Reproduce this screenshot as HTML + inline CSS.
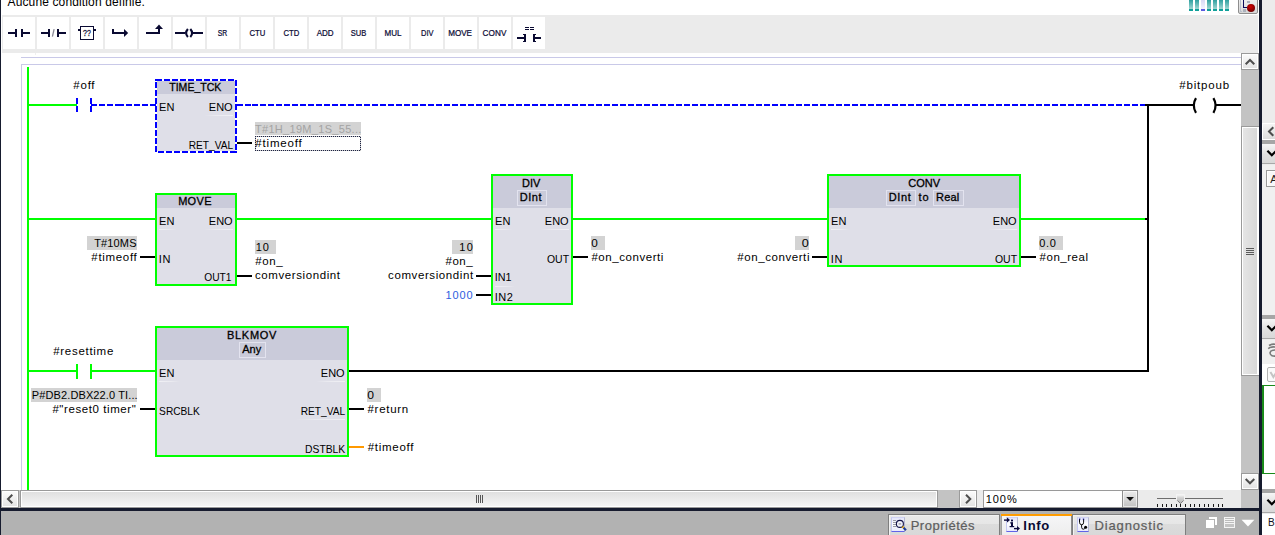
<!DOCTYPE html>
<html lang="fr"><head><meta charset="utf-8"><title>TIA Portal - LADDER</title>
<style>
html,body{margin:0;padding:0;background:#fff;}
body{width:1275px;height:535px;overflow:hidden;font-family:"Liberation Sans",sans-serif;}
#root{position:relative;width:1275px;height:535px;overflow:hidden;background:#fff;}
#root div,#root span,#root svg,#root section{position:absolute;box-sizing:border-box;}
#root section.g{left:0;top:0;width:0;height:0;overflow:visible;}
#root span{white-space:nowrap;line-height:16px;transform-origin:0 0;}

</style></head>
<body>
<div id="root">
<section class="g" id="status-text">
<span style="top:-6px;font-size:12px;color:#000;left:7.55px;letter-spacing:0.13px;">Aucune condition définie.</span>
</section>
<section class="g" id="favorites-toolbar">
<div style="left:2px;top:15px;width:1256px;height:38px;background:#ebebeb;"></div>
<div style="left:35px;top:53px;width:1px;height:2px;background:#efefef;"></div>
<div style="left:3px;top:17px;width:32px;height:32px;background:#fff;"></div>
<div style="left:37px;top:17px;width:32px;height:32px;background:#fff;"></div>
<div style="left:71px;top:17px;width:32px;height:32px;background:#fff;"></div>
<div style="left:105px;top:17px;width:32px;height:32px;background:#fff;"></div>
<div style="left:139px;top:17px;width:32px;height:32px;background:#fff;"></div>
<div style="left:173px;top:17px;width:32px;height:32px;background:#fff;"></div>
<div style="left:207px;top:17px;width:32px;height:32px;background:#fff;"></div>
<div style="left:241px;top:17px;width:32px;height:32px;background:#fff;"></div>
<div style="left:275px;top:17px;width:32px;height:32px;background:#fff;"></div>
<div style="left:309px;top:17px;width:32px;height:32px;background:#fff;"></div>
<div style="left:343px;top:17px;width:32px;height:32px;background:#fff;"></div>
<div style="left:377px;top:17px;width:32px;height:32px;background:#fff;"></div>
<div style="left:411px;top:17px;width:32px;height:32px;background:#fff;"></div>
<div style="left:445px;top:17px;width:32px;height:32px;background:#fff;"></div>
<div style="left:479px;top:17px;width:32px;height:32px;background:#fff;"></div>
<div style="left:513px;top:17px;width:32px;height:32px;background:#fff;"></div>
<div style="left:8px;top:32px;width:8px;height:2px;background:#0a0a32;"></div>
<div style="left:15px;top:29px;width:2px;height:8px;background:#0a0a32;"></div>
<div style="left:21px;top:29px;width:2px;height:8px;background:#0a0a32;"></div>
<div style="left:22px;top:32px;width:8px;height:2px;background:#0a0a32;"></div>
<div style="left:41px;top:32px;width:8px;height:2px;background:#0a0a32;"></div>
<div style="left:48px;top:29px;width:2px;height:8px;background:#0a0a32;"></div>
<div style="left:57px;top:29px;width:2px;height:8px;background:#0a0a32;"></div>
<div style="left:58px;top:32px;width:8px;height:2px;background:#0a0a32;"></div>
<svg style="left:50px;top:28px" width="8" height="10" viewBox="0 0 8 10"><path d="M4.1 1.2 L2.4 8.6" stroke="#8a8a96" stroke-width="1.3" fill="none"/></svg>
<div style="left:80px;top:26px;width:14px;height:14px;border:1px solid #0a0a32;background:#fff"></div>
<div style="left:78px;top:29px;width:2px;height:2px;background:#0a0a32;"></div>
<div style="left:94px;top:29px;width:2px;height:2px;background:#0a0a32;"></div>
<span style="top:25.299999999999997px;font-size:9.5px;color:#14143c;left:83px;transform:translateX(0.1px) scaleX(0.731);-webkit-text-stroke:0.3px #14143c;">??</span>
<div style="left:112px;top:29px;width:2px;height:5px;background:#0a0a32;"></div>
<div style="left:112px;top:32px;width:13px;height:2px;background:#0a0a32;"></div>
<svg style="left:122px;top:28px" width="8" height="10" viewBox="0 0 8 10"><path d="M2 1 L6.2 5 L2 9 Z" fill="#0a0a32"/></svg>
<div style="left:146px;top:32px;width:14px;height:2px;background:#0a0a32;"></div>
<div style="left:158px;top:28px;width:2px;height:6px;background:#0a0a32;"></div>
<svg style="left:154px;top:24px" width="10" height="6" viewBox="0 0 10 6"><path d="M5 0.6 L9 5 L1 5 Z" fill="#0a0a32"/></svg>
<div style="left:175px;top:32px;width:10px;height:2px;background:#0a0a32;"></div>
<div style="left:193px;top:32px;width:10px;height:2px;background:#0a0a32;"></div>
<svg style="left:183px;top:27px" width="12" height="12" viewBox="0 0 12 12"><path d="M4.9 2 Q1.3 6 4.9 10" fill="none" stroke="#0a0a32" stroke-width="2.1"/><path d="M7.3 2 Q10.9 6 7.3 10" fill="none" stroke="#0a0a32" stroke-width="2.1"/></svg>
<span style="top:26px;font-size:8.2px;color:#0c0c36;left:217px;transform:translateX(0.63px) scaleX(0.835);-webkit-text-stroke:0.22px #0c0c36;">SR</span>
<span style="top:26px;font-size:8.2px;color:#0c0c36;left:249px;transform:translateX(0.53px) scaleX(0.94);-webkit-text-stroke:0.22px #0c0c36;">CTU</span>
<span style="top:26px;font-size:8.2px;color:#0c0c36;left:283px;transform:translateX(0.54px) scaleX(0.941);-webkit-text-stroke:0.22px #0c0c36;">CTD</span>
<span style="top:26px;font-size:8.2px;color:#0c0c36;left:316px;transform:translateX(0.66px) scaleX(0.98);-webkit-text-stroke:0.22px #0c0c36;">ADD</span>
<span style="top:26px;font-size:8.2px;color:#0c0c36;left:350px;transform:translateX(0.68px) scaleX(0.926);-webkit-text-stroke:0.22px #0c0c36;">SUB</span>
<span style="top:26px;font-size:8.2px;color:#0c0c36;left:384px;transform:translateX(0.56px) scaleX(0.98);-webkit-text-stroke:0.22px #0c0c36;">MUL</span>
<span style="top:26px;font-size:8.2px;color:#0c0c36;left:420px;transform:translateX(0.96px) scaleX(0.916);-webkit-text-stroke:0.22px #0c0c36;">DIV</span>
<span style="top:26px;font-size:8.2px;color:#0c0c36;left:448px;transform:translateX(0.19px) scaleX(0.988);-webkit-text-stroke:0.22px #0c0c36;">MOVE</span>
<span style="top:26px;font-size:8.2px;color:#0c0c36;left:482.42px;letter-spacing:0.12px;-webkit-text-stroke:0.22px #0c0c36;">CONV</span>
<div style="left:525px;top:27px;width:4px;height:1px;background:#0a0a32;"></div>
<div style="left:525px;top:29px;width:4px;height:1px;background:#0a0a32;"></div>
<div style="left:530px;top:27px;width:4px;height:1px;background:#0a0a32;"></div>
<div style="left:530px;top:29px;width:4px;height:1px;background:#0a0a32;"></div>
<div style="left:517px;top:37px;width:8px;height:2px;background:#0a0a32;"></div>
<div style="left:524px;top:34px;width:2px;height:8px;background:#0a0a32;"></div>
<div style="left:523px;top:34px;width:2px;height:1px;background:#0a0a32;"></div>
<div style="left:523px;top:41px;width:2px;height:1px;background:#0a0a32;"></div>
<div style="left:533px;top:34px;width:2px;height:8px;background:#0a0a32;"></div>
<div style="left:534px;top:34px;width:2px;height:1px;background:#0a0a32;"></div>
<div style="left:534px;top:41px;width:2px;height:1px;background:#0a0a32;"></div>
<div style="left:534px;top:37px;width:7px;height:2px;background:#0a0a32;"></div>
<div style="left:1189px;top:0;width:4px;height:9px;background:linear-gradient(180deg,#2fa0a0,#9fd6d2)"></div>
<div style="left:1189px;top:9px;width:4px;height:2px;background:#10a09a;"></div>
<div style="left:1195px;top:0;width:4px;height:9px;background:linear-gradient(180deg,#2fa0a0,#9fd6d2)"></div>
<div style="left:1195px;top:9px;width:4px;height:2px;background:#10a09a;"></div>
<div style="left:1201px;top:0;width:4px;height:9px;background:linear-gradient(180deg,#d8d8f4,#f4f4ff)"></div>
<div style="left:1201px;top:9px;width:4px;height:2px;background:#5a5ae0;"></div>
<div style="left:1207px;top:0;width:4px;height:9px;background:linear-gradient(180deg,#2fa0a0,#9fd6d2)"></div>
<div style="left:1207px;top:9px;width:4px;height:2px;background:#10a09a;"></div>
<div style="left:1213px;top:0;width:4px;height:9px;background:linear-gradient(180deg,#2fa0a0,#9fd6d2)"></div>
<div style="left:1213px;top:9px;width:4px;height:2px;background:#10a09a;"></div>
<div style="left:1219px;top:0;width:4px;height:9px;background:linear-gradient(180deg,#2fa0a0,#9fd6d2)"></div>
<div style="left:1219px;top:9px;width:4px;height:2px;background:#10a09a;"></div>
<div style="left:1225px;top:0;width:4px;height:9px;background:linear-gradient(180deg,#2fa0a0,#9fd6d2)"></div>
<div style="left:1225px;top:9px;width:4px;height:2px;background:#10a09a;"></div>
<div style="left:1238px;top:-3px;width:20px;height:17px;border:1px solid #8e8e8e;border-radius:2px;background:linear-gradient(180deg,#f2f2f2,#d6d6d6)"></div>
<div style="left:1243px;top:0px;width:1px;height:8px;background:#0a0a5a;"></div>
<div style="left:1243px;top:7px;width:4px;height:1px;background:#0a0a5a;"></div>
<div style="left:1240px;top:0px;width:1px;height:11px;background:#b8c0cc;"></div>
<div style="left:1240px;top:11px;width:2px;height:1px;background:#b8c0cc;"></div>
<div style="left:1247px;top:1px;width:3px;height:2px;background:#aab0bc;"></div>
<div style="left:1243px;top:9px;width:3px;height:3px;background:#aab0bc;"></div>
<svg style="left:1246px;top:3px" width="10" height="10" viewBox="0 0 10 10"><defs><radialGradient id="rg" cx="45%" cy="35%" r="65%"><stop offset="0" stop-color="#d40000"/><stop offset="1" stop-color="#700000"/></radialGradient></defs><circle cx="5" cy="5" r="4" fill="url(#rg)"/></svg>
</section>
<section class="g" id="network-frame">
<div style="left:21px;top:57px;width:1220px;height:1px;background:#c9c9e8;"></div>
<div style="left:21px;top:64px;width:1220px;height:1px;background:#c9c9e8;"></div>
<div style="left:21px;top:64px;width:1px;height:426px;background:#c9c9e8;"></div>
</section>
<section class="g" id="power-rail">
<div style="left:27px;top:67px;width:2px;height:423px;background:#00ff00;"></div>
</section>
<section class="g" id="rung-1">
<div style="left:29px;top:104px;width:48px;height:2px;background:#00ff00;"></div>
<div style="left:76px;top:98px;width:2px;height:6px;background:#0000ff;"></div>
<div style="left:76px;top:106px;width:2px;height:6px;background:#0000ff;"></div>
<div style="left:90px;top:98px;width:2px;height:6px;background:#0000ff;"></div>
<div style="left:90px;top:106px;width:2px;height:6px;background:#0000ff;"></div>
<div style="left:91px;top:104px;width:6px;height:2px;background:#0000ff;"></div>
<div style="left:99px;top:104px;width:6px;height:2px;background:#0000ff;"></div>
<div style="left:107px;top:104px;width:6px;height:2px;background:#0000ff;"></div>
<div style="left:115px;top:104px;width:6px;height:2px;background:#0000ff;"></div>
<div style="left:118px;top:104px;width:6px;height:2px;background:#0000ff;"></div>
<div style="left:126px;top:104px;width:6px;height:2px;background:#0000ff;"></div>
<div style="left:134px;top:104px;width:6px;height:2px;background:#0000ff;"></div>
<div style="left:142px;top:104px;width:6px;height:2px;background:#0000ff;"></div>
<div style="left:150px;top:104px;width:6px;height:2px;background:#0000ff;"></div>
<span style="top:77px;font-size:11.5px;color:#000;left:73.36px;letter-spacing:0.74px;">#off</span>
<div style="left:157px;top:81px;width:78px;height:13px;background:#cacbda;"></div>
<div style="left:157px;top:94px;width:78px;height:57px;background:#dfdfe8;"></div>
<div style="left:155px;top:79px;width:7px;height:2px;background:#0000ff;"></div>
<div style="left:164px;top:79px;width:6px;height:2px;background:#0000ff;"></div>
<div style="left:172px;top:79px;width:6px;height:2px;background:#0000ff;"></div>
<div style="left:180px;top:79px;width:6px;height:2px;background:#0000ff;"></div>
<div style="left:188px;top:79px;width:6px;height:2px;background:#0000ff;"></div>
<div style="left:196px;top:79px;width:6px;height:2px;background:#0000ff;"></div>
<div style="left:204px;top:79px;width:6px;height:2px;background:#0000ff;"></div>
<div style="left:212px;top:79px;width:6px;height:2px;background:#0000ff;"></div>
<div style="left:220px;top:79px;width:6px;height:2px;background:#0000ff;"></div>
<div style="left:228px;top:79px;width:6px;height:2px;background:#0000ff;"></div>
<div style="left:235px;top:80px;width:2px;height:6px;background:#0000ff;"></div>
<div style="left:235px;top:88px;width:2px;height:6px;background:#0000ff;"></div>
<div style="left:235px;top:96px;width:2px;height:6px;background:#0000ff;"></div>
<div style="left:235px;top:104px;width:2px;height:6px;background:#0000ff;"></div>
<div style="left:235px;top:112px;width:2px;height:6px;background:#0000ff;"></div>
<div style="left:235px;top:120px;width:2px;height:6px;background:#0000ff;"></div>
<div style="left:235px;top:128px;width:2px;height:6px;background:#0000ff;"></div>
<div style="left:235px;top:136px;width:2px;height:6px;background:#0000ff;"></div>
<div style="left:235px;top:144px;width:2px;height:6px;background:#0000ff;"></div>
<div style="left:235px;top:152px;width:2px;height:1px;background:#0000ff;"></div>
<div style="left:235px;top:151px;width:2px;height:2px;background:#0000ff;"></div>
<div style="left:158px;top:151px;width:6px;height:2px;background:#0000ff;"></div>
<div style="left:166px;top:151px;width:6px;height:2px;background:#0000ff;"></div>
<div style="left:174px;top:151px;width:6px;height:2px;background:#0000ff;"></div>
<div style="left:182px;top:151px;width:6px;height:2px;background:#0000ff;"></div>
<div style="left:190px;top:151px;width:6px;height:2px;background:#0000ff;"></div>
<div style="left:198px;top:151px;width:6px;height:2px;background:#0000ff;"></div>
<div style="left:206px;top:151px;width:6px;height:2px;background:#0000ff;"></div>
<div style="left:214px;top:151px;width:6px;height:2px;background:#0000ff;"></div>
<div style="left:222px;top:151px;width:6px;height:2px;background:#0000ff;"></div>
<div style="left:230px;top:151px;width:6px;height:2px;background:#0000ff;"></div>
<div style="left:155px;top:82px;width:2px;height:6px;background:#0000ff;"></div>
<div style="left:155px;top:90px;width:2px;height:6px;background:#0000ff;"></div>
<div style="left:155px;top:98px;width:2px;height:6px;background:#0000ff;"></div>
<div style="left:155px;top:106px;width:2px;height:6px;background:#0000ff;"></div>
<div style="left:155px;top:114px;width:2px;height:6px;background:#0000ff;"></div>
<div style="left:155px;top:122px;width:2px;height:6px;background:#0000ff;"></div>
<div style="left:155px;top:130px;width:2px;height:6px;background:#0000ff;"></div>
<div style="left:155px;top:138px;width:2px;height:6px;background:#0000ff;"></div>
<div style="left:155px;top:146px;width:2px;height:6px;background:#0000ff;"></div>
<span style="top:79px;font-size:11px;color:#000;left:169px;transform:translateX(0.26px) scaleX(0.957);-webkit-text-stroke:0.3px currentColor;">TIME_TCK</span>
<span style="top:99px;font-size:11px;color:#000;left:159.07px;letter-spacing:0.09px;">EN</span>
<span style="top:99px;font-size:11px;color:#000;left:208.79px;letter-spacing:0.01px;">ENO</span>
<span style="top:137px;font-size:11px;color:#000;left:188px;transform:translateX(0.75px) scaleX(0.922);">RET_VAL</span>
<div style="left:204px;top:115px;width:29px;height:1px;background:linear-gradient(270deg,rgba(255,255,255,.55),rgba(255,255,255,.35) 60%,rgba(255,255,255,0))"></div>
<div style="left:237px;top:104px;width:6px;height:2px;background:#0000ff;"></div>
<div style="left:245px;top:104px;width:6px;height:2px;background:#0000ff;"></div>
<div style="left:252px;top:104px;width:6px;height:2px;background:#0000ff;"></div>
<div style="left:260px;top:104px;width:6px;height:2px;background:#0000ff;"></div>
<div style="left:268px;top:104px;width:6px;height:2px;background:#0000ff;"></div>
<div style="left:276px;top:104px;width:6px;height:2px;background:#0000ff;"></div>
<div style="left:284px;top:104px;width:6px;height:2px;background:#0000ff;"></div>
<div style="left:292px;top:104px;width:6px;height:2px;background:#0000ff;"></div>
<div style="left:300px;top:104px;width:6px;height:2px;background:#0000ff;"></div>
<div style="left:308px;top:104px;width:6px;height:2px;background:#0000ff;"></div>
<div style="left:316px;top:104px;width:6px;height:2px;background:#0000ff;"></div>
<div style="left:324px;top:104px;width:6px;height:2px;background:#0000ff;"></div>
<div style="left:332px;top:104px;width:6px;height:2px;background:#0000ff;"></div>
<div style="left:340px;top:104px;width:6px;height:2px;background:#0000ff;"></div>
<div style="left:348px;top:104px;width:6px;height:2px;background:#0000ff;"></div>
<div style="left:356px;top:104px;width:6px;height:2px;background:#0000ff;"></div>
<div style="left:364px;top:104px;width:6px;height:2px;background:#0000ff;"></div>
<div style="left:372px;top:104px;width:6px;height:2px;background:#0000ff;"></div>
<div style="left:380px;top:104px;width:6px;height:2px;background:#0000ff;"></div>
<div style="left:388px;top:104px;width:6px;height:2px;background:#0000ff;"></div>
<div style="left:396px;top:104px;width:6px;height:2px;background:#0000ff;"></div>
<div style="left:404px;top:104px;width:6px;height:2px;background:#0000ff;"></div>
<div style="left:412px;top:104px;width:6px;height:2px;background:#0000ff;"></div>
<div style="left:420px;top:104px;width:6px;height:2px;background:#0000ff;"></div>
<div style="left:428px;top:104px;width:6px;height:2px;background:#0000ff;"></div>
<div style="left:436px;top:104px;width:6px;height:2px;background:#0000ff;"></div>
<div style="left:444px;top:104px;width:6px;height:2px;background:#0000ff;"></div>
<div style="left:452px;top:104px;width:6px;height:2px;background:#0000ff;"></div>
<div style="left:460px;top:104px;width:6px;height:2px;background:#0000ff;"></div>
<div style="left:468px;top:104px;width:6px;height:2px;background:#0000ff;"></div>
<div style="left:476px;top:104px;width:6px;height:2px;background:#0000ff;"></div>
<div style="left:484px;top:104px;width:6px;height:2px;background:#0000ff;"></div>
<div style="left:492px;top:104px;width:6px;height:2px;background:#0000ff;"></div>
<div style="left:500px;top:104px;width:6px;height:2px;background:#0000ff;"></div>
<div style="left:508px;top:104px;width:6px;height:2px;background:#0000ff;"></div>
<div style="left:516px;top:104px;width:6px;height:2px;background:#0000ff;"></div>
<div style="left:524px;top:104px;width:6px;height:2px;background:#0000ff;"></div>
<div style="left:532px;top:104px;width:6px;height:2px;background:#0000ff;"></div>
<div style="left:540px;top:104px;width:6px;height:2px;background:#0000ff;"></div>
<div style="left:548px;top:104px;width:6px;height:2px;background:#0000ff;"></div>
<div style="left:556px;top:104px;width:6px;height:2px;background:#0000ff;"></div>
<div style="left:564px;top:104px;width:6px;height:2px;background:#0000ff;"></div>
<div style="left:572px;top:104px;width:6px;height:2px;background:#0000ff;"></div>
<div style="left:580px;top:104px;width:6px;height:2px;background:#0000ff;"></div>
<div style="left:588px;top:104px;width:6px;height:2px;background:#0000ff;"></div>
<div style="left:596px;top:104px;width:6px;height:2px;background:#0000ff;"></div>
<div style="left:604px;top:104px;width:6px;height:2px;background:#0000ff;"></div>
<div style="left:612px;top:104px;width:6px;height:2px;background:#0000ff;"></div>
<div style="left:620px;top:104px;width:6px;height:2px;background:#0000ff;"></div>
<div style="left:628px;top:104px;width:6px;height:2px;background:#0000ff;"></div>
<div style="left:636px;top:104px;width:6px;height:2px;background:#0000ff;"></div>
<div style="left:644px;top:104px;width:6px;height:2px;background:#0000ff;"></div>
<div style="left:652px;top:104px;width:6px;height:2px;background:#0000ff;"></div>
<div style="left:660px;top:104px;width:6px;height:2px;background:#0000ff;"></div>
<div style="left:668px;top:104px;width:6px;height:2px;background:#0000ff;"></div>
<div style="left:676px;top:104px;width:6px;height:2px;background:#0000ff;"></div>
<div style="left:684px;top:104px;width:6px;height:2px;background:#0000ff;"></div>
<div style="left:692px;top:104px;width:6px;height:2px;background:#0000ff;"></div>
<div style="left:700px;top:104px;width:6px;height:2px;background:#0000ff;"></div>
<div style="left:708px;top:104px;width:6px;height:2px;background:#0000ff;"></div>
<div style="left:716px;top:104px;width:6px;height:2px;background:#0000ff;"></div>
<div style="left:724px;top:104px;width:6px;height:2px;background:#0000ff;"></div>
<div style="left:732px;top:104px;width:6px;height:2px;background:#0000ff;"></div>
<div style="left:740px;top:104px;width:6px;height:2px;background:#0000ff;"></div>
<div style="left:748px;top:104px;width:6px;height:2px;background:#0000ff;"></div>
<div style="left:756px;top:104px;width:6px;height:2px;background:#0000ff;"></div>
<div style="left:764px;top:104px;width:6px;height:2px;background:#0000ff;"></div>
<div style="left:772px;top:104px;width:6px;height:2px;background:#0000ff;"></div>
<div style="left:780px;top:104px;width:6px;height:2px;background:#0000ff;"></div>
<div style="left:788px;top:104px;width:6px;height:2px;background:#0000ff;"></div>
<div style="left:796px;top:104px;width:6px;height:2px;background:#0000ff;"></div>
<div style="left:804px;top:104px;width:6px;height:2px;background:#0000ff;"></div>
<div style="left:812px;top:104px;width:6px;height:2px;background:#0000ff;"></div>
<div style="left:820px;top:104px;width:6px;height:2px;background:#0000ff;"></div>
<div style="left:828px;top:104px;width:6px;height:2px;background:#0000ff;"></div>
<div style="left:836px;top:104px;width:6px;height:2px;background:#0000ff;"></div>
<div style="left:844px;top:104px;width:6px;height:2px;background:#0000ff;"></div>
<div style="left:852px;top:104px;width:6px;height:2px;background:#0000ff;"></div>
<div style="left:860px;top:104px;width:6px;height:2px;background:#0000ff;"></div>
<div style="left:868px;top:104px;width:6px;height:2px;background:#0000ff;"></div>
<div style="left:876px;top:104px;width:6px;height:2px;background:#0000ff;"></div>
<div style="left:884px;top:104px;width:6px;height:2px;background:#0000ff;"></div>
<div style="left:892px;top:104px;width:6px;height:2px;background:#0000ff;"></div>
<div style="left:900px;top:104px;width:6px;height:2px;background:#0000ff;"></div>
<div style="left:908px;top:104px;width:6px;height:2px;background:#0000ff;"></div>
<div style="left:916px;top:104px;width:6px;height:2px;background:#0000ff;"></div>
<div style="left:924px;top:104px;width:6px;height:2px;background:#0000ff;"></div>
<div style="left:932px;top:104px;width:6px;height:2px;background:#0000ff;"></div>
<div style="left:940px;top:104px;width:6px;height:2px;background:#0000ff;"></div>
<div style="left:948px;top:104px;width:6px;height:2px;background:#0000ff;"></div>
<div style="left:956px;top:104px;width:6px;height:2px;background:#0000ff;"></div>
<div style="left:964px;top:104px;width:6px;height:2px;background:#0000ff;"></div>
<div style="left:972px;top:104px;width:6px;height:2px;background:#0000ff;"></div>
<div style="left:980px;top:104px;width:6px;height:2px;background:#0000ff;"></div>
<div style="left:988px;top:104px;width:6px;height:2px;background:#0000ff;"></div>
<div style="left:996px;top:104px;width:6px;height:2px;background:#0000ff;"></div>
<div style="left:1004px;top:104px;width:6px;height:2px;background:#0000ff;"></div>
<div style="left:1012px;top:104px;width:6px;height:2px;background:#0000ff;"></div>
<div style="left:1020px;top:104px;width:6px;height:2px;background:#0000ff;"></div>
<div style="left:1028px;top:104px;width:6px;height:2px;background:#0000ff;"></div>
<div style="left:1036px;top:104px;width:6px;height:2px;background:#0000ff;"></div>
<div style="left:1044px;top:104px;width:6px;height:2px;background:#0000ff;"></div>
<div style="left:1052px;top:104px;width:6px;height:2px;background:#0000ff;"></div>
<div style="left:1060px;top:104px;width:6px;height:2px;background:#0000ff;"></div>
<div style="left:1068px;top:104px;width:6px;height:2px;background:#0000ff;"></div>
<div style="left:1076px;top:104px;width:6px;height:2px;background:#0000ff;"></div>
<div style="left:1084px;top:104px;width:6px;height:2px;background:#0000ff;"></div>
<div style="left:1092px;top:104px;width:6px;height:2px;background:#0000ff;"></div>
<div style="left:1100px;top:104px;width:6px;height:2px;background:#0000ff;"></div>
<div style="left:1108px;top:104px;width:6px;height:2px;background:#0000ff;"></div>
<div style="left:1116px;top:104px;width:6px;height:2px;background:#0000ff;"></div>
<div style="left:1124px;top:104px;width:6px;height:2px;background:#0000ff;"></div>
<div style="left:1132px;top:104px;width:6px;height:2px;background:#0000ff;"></div>
<div style="left:1140px;top:104px;width:6px;height:2px;background:#0000ff;"></div>
<div style="left:237px;top:142px;width:15px;height:2px;background:#000;"></div>
<div style="left:255px;top:122px;width:106px;height:13px;background:#d3d3d3;"></div>
<span style="top:121px;font-size:11px;color:#a3a3a3;left:254.93px;letter-spacing:0.31px;">T#1H_19M_1S_55...</span>
<div style="left:255px;top:136px;width:106px;height:1px;background:repeating-linear-gradient(90deg,#1c2244 0,#1c2244 1px,#c6c6c6 1px,#c6c6c6 2px)"></div>
<div style="left:255px;top:150px;width:106px;height:1px;background:repeating-linear-gradient(90deg,#1c2244 0,#1c2244 1px,#c6c6c6 1px,#c6c6c6 2px)"></div>
<div style="left:255px;top:136px;width:1px;height:15px;background:repeating-linear-gradient(180deg,#1c2244 0,#1c2244 1px,#c6c6c6 1px,#c6c6c6 2px)"></div>
<div style="left:360px;top:136px;width:1px;height:15px;background:repeating-linear-gradient(180deg,#c6c6c6 0,#c6c6c6 1px,#1c2244 1px,#1c2244 2px)"></div>
<span style="top:135px;font-size:11.5px;color:#000;left:255.26px;letter-spacing:0.83px;">#timeoff</span>
<div style="left:1145px;top:104px;width:49px;height:2px;background:#000;"></div>
<div style="left:1216px;top:104px;width:25px;height:2px;background:#000;"></div>
<div style="left:1147px;top:104px;width:2px;height:268px;background:#000;"></div>
<svg style="left:1190px;top:96px" width="30" height="20" viewBox="0 0 30 20"><path d="M6 2.2 Q1.5 9.5 6 16.8" fill="none" stroke="#000" stroke-width="2.2"/><path d="M23.4 2.2 Q27.9 9.5 23.4 16.8" fill="none" stroke="#000" stroke-width="2.2"/></svg>
<span style="top:77px;font-size:11.5px;color:#000;left:1179.3px;letter-spacing:0.81px;">#bitpoub</span>
</section>
<section class="g" id="rung-2">
<div style="left:29px;top:218px;width:126px;height:2px;background:#00ff00;"></div>
<div style="left:157px;top:195px;width:78px;height:13px;background:#cacbda;"></div>
<div style="left:157px;top:208px;width:78px;height:76px;background:#dfdfe8;"></div>
<div style="left:155px;top:193px;width:82px;height:93px;border:2px solid #00ff00"></div>
<span style="top:193px;font-size:11px;color:#000;left:178.15px;letter-spacing:0.31px;-webkit-text-stroke:0.3px currentColor;">MOVE</span>
<span style="top:213px;font-size:11px;color:#000;left:159.07px;letter-spacing:0.09px;">EN</span>
<span style="top:213px;font-size:11px;color:#000;left:208.79px;letter-spacing:0.01px;">ENO</span>
<span style="top:251px;font-size:11px;color:#000;left:158.86px;letter-spacing:0.7px;">IN</span>
<span style="top:269px;font-size:11px;color:#000;left:204px;transform:translateX(0.22px) scaleX(0.93);">OUT1</span>
<div style="left:159px;top:229px;width:17px;height:1px;background:linear-gradient(90deg,rgba(255,255,255,.55),rgba(255,255,255,.35) 60%,rgba(255,255,255,0))"></div>
<div style="left:204px;top:229px;width:29px;height:1px;background:linear-gradient(270deg,rgba(255,255,255,.55),rgba(255,255,255,.35) 60%,rgba(255,255,255,0))"></div>
<div style="left:140px;top:256px;width:15px;height:2px;background:#000;"></div>
<div style="left:87px;top:236px;width:50px;height:14px;background:#d3d3d3;"></div>
<span style="top:235px;font-size:11px;color:#000;left:94.22px;letter-spacing:0.14px;">T#10MS</span>
<span style="top:249px;font-size:11.5px;color:#000;left:91.32px;letter-spacing:0.68px;">#timeoff</span>
<div style="left:237px;top:275px;width:15px;height:2px;background:#000;"></div>
<div style="left:255px;top:240px;width:21px;height:14px;background:#d3d3d3;"></div>
<span style="top:239px;font-size:11px;color:#000;left:255.69px;letter-spacing:0.93px;">10</span>
<span style="top:253px;font-size:11.5px;color:#000;left:255.37px;letter-spacing:0.53px;">#on_</span>
<span style="top:267px;font-size:11.5px;color:#000;left:255.0px;letter-spacing:0.59px;">comversiondint</span>
<div style="left:237px;top:218px;width:254px;height:2px;background:#00ff00;"></div>
<div style="left:493px;top:176px;width:78px;height:32px;background:#cacbda;"></div>
<div style="left:493px;top:208px;width:78px;height:95px;background:#dfdfe8;"></div>
<div style="left:491px;top:174px;width:82px;height:131px;border:2px solid #00ff00"></div>
<span style="top:175px;font-size:11px;color:#000;left:522px;transform:translateX(0.02px) scaleX(0.996);-webkit-text-stroke:0.3px currentColor;">DIV</span>
<div style="left:517px;top:190px;width:30px;height:16px;border:1px solid rgba(235,235,245,.75)"></div>
<span style="top:189px;font-size:11px;color:#000;left:519.68px;letter-spacing:0.58px;-webkit-text-stroke:0.3px currentColor;">DInt</span>
<span style="top:213px;font-size:11px;color:#000;left:495.07px;letter-spacing:0.09px;">EN</span>
<span style="top:213px;font-size:11px;color:#000;left:544.79px;letter-spacing:0.01px;">ENO</span>
<span style="top:251px;font-size:11px;color:#000;left:547px;transform:translateX(0.0px) scaleX(0.948);">OUT</span>
<span style="top:269px;font-size:11px;color:#000;left:494px;transform:translateX(0.82px) scaleX(0.981);">IN1</span>
<span style="top:289px;font-size:11px;color:#000;left:494.82px;letter-spacing:0.43px;">IN2</span>
<div style="left:495px;top:229px;width:17px;height:1px;background:linear-gradient(90deg,rgba(255,255,255,.55),rgba(255,255,255,.35) 60%,rgba(255,255,255,0))"></div>
<div style="left:540px;top:229px;width:29px;height:1px;background:linear-gradient(270deg,rgba(255,255,255,.55),rgba(255,255,255,.35) 60%,rgba(255,255,255,0))"></div>
<div style="left:495px;top:286px;width:20px;height:1px;background:linear-gradient(90deg,rgba(255,255,255,.55),rgba(255,255,255,.35) 60%,rgba(255,255,255,0))"></div>
<div style="left:476px;top:275px;width:15px;height:2px;background:#000;"></div>
<div style="left:476px;top:294px;width:15px;height:2px;background:#000;"></div>
<div style="left:452px;top:240px;width:21px;height:14px;background:#d3d3d3;"></div>
<span style="top:239px;font-size:11px;color:#000;left:459.17px;letter-spacing:1.38px;">10</span>
<span style="top:253px;font-size:11.5px;color:#000;left:445.45px;letter-spacing:0.57px;">#on_</span>
<span style="top:267px;font-size:11.5px;color:#000;left:388.06px;letter-spacing:0.6px;">comversiondint</span>
<span style="top:287px;font-size:11px;color:#2c5ee0;left:445.5px;letter-spacing:0.87px;">1000</span>
<div style="left:573px;top:256px;width:15px;height:2px;background:#000;"></div>
<div style="left:591px;top:236px;width:14px;height:14px;background:#d3d3d3;"></div>
<span style="top:235px;font-size:11px;color:#000;left:591px;transform:translateX(0.23px) scaleX(1.068);">0</span>
<span style="top:249px;font-size:11.5px;color:#000;left:591.42px;letter-spacing:0.55px;">#on_converti</span>
<div style="left:573px;top:218px;width:254px;height:2px;background:#00ff00;"></div>
<div style="left:829px;top:176px;width:190px;height:32px;background:#cacbda;"></div>
<div style="left:829px;top:208px;width:190px;height:57px;background:#dfdfe8;"></div>
<div style="left:827px;top:174px;width:194px;height:93px;border:2px solid #00ff00"></div>
<span style="top:175px;font-size:11px;color:#000;left:908.15px;letter-spacing:0.08px;-webkit-text-stroke:0.3px currentColor;">CONV</span>
<div style="left:886px;top:190px;width:30px;height:16px;border:1px solid rgba(235,235,245,.75)"></div>
<div style="left:933px;top:190px;width:31px;height:16px;border:1px solid rgba(235,235,245,.75)"></div>
<span style="top:189px;font-size:11px;color:#000;left:888.76px;letter-spacing:0.66px;-webkit-text-stroke:0.3px currentColor;">DInt</span>
<span style="top:189px;font-size:11px;color:#000;left:918.42px;letter-spacing:0.95px;-webkit-text-stroke:0.3px currentColor;">to</span>
<span style="top:189px;font-size:11px;color:#000;left:936.08px;letter-spacing:0.2px;-webkit-text-stroke:0.3px currentColor;">Real</span>
<span style="top:213px;font-size:11px;color:#000;left:831.07px;letter-spacing:0.09px;">EN</span>
<span style="top:213px;font-size:11px;color:#000;left:992.79px;letter-spacing:0.01px;">ENO</span>
<span style="top:251px;font-size:11px;color:#000;left:830.86px;letter-spacing:0.7px;">IN</span>
<span style="top:251px;font-size:11px;color:#000;left:995px;transform:translateX(0.0px) scaleX(0.948);">OUT</span>
<div style="left:831px;top:229px;width:19px;height:1px;background:linear-gradient(90deg,rgba(255,255,255,.55),rgba(255,255,255,.35) 60%,rgba(255,255,255,0))"></div>
<div style="left:988px;top:229px;width:29px;height:1px;background:linear-gradient(270deg,rgba(255,255,255,.55),rgba(255,255,255,.35) 60%,rgba(255,255,255,0))"></div>
<div style="left:812px;top:256px;width:15px;height:2px;background:#000;"></div>
<div style="left:795px;top:236px;width:14px;height:14px;background:#d3d3d3;"></div>
<span style="top:235px;font-size:11px;color:#000;left:801px;transform:translateX(0.74px) scaleX(1.151);">0</span>
<span style="top:249px;font-size:11.5px;color:#000;left:737.32px;letter-spacing:0.57px;">#on_converti</span>
<div style="left:1021px;top:256px;width:15px;height:2px;background:#000;"></div>
<div style="left:1039px;top:236px;width:24px;height:14px;background:#d3d3d3;"></div>
<span style="top:235px;font-size:11px;color:#000;left:1039.2px;letter-spacing:0.69px;">0.0</span>
<span style="top:249px;font-size:11.5px;color:#000;left:1039.56px;letter-spacing:0.53px;">#on_real</span>
<div style="left:1021px;top:218px;width:124px;height:2px;background:#00ff00;"></div>
<div style="left:1145px;top:218px;width:2px;height:2px;background:#000;"></div>
</section>
<section class="g" id="rung-3">
<div style="left:29px;top:370px;width:48px;height:2px;background:#00ff00;"></div>
<div style="left:76px;top:364px;width:2px;height:15px;background:#00ff00;"></div>
<div style="left:90px;top:364px;width:2px;height:15px;background:#00ff00;"></div>
<div style="left:91px;top:370px;width:64px;height:2px;background:#00ff00;"></div>
<span style="top:343px;font-size:11.5px;color:#000;left:53.22px;letter-spacing:0.71px;">#resettime</span>
<div style="left:157px;top:328px;width:190px;height:32px;background:#cacbda;"></div>
<div style="left:157px;top:360px;width:190px;height:95px;background:#dfdfe8;"></div>
<div style="left:155px;top:326px;width:194px;height:131px;border:2px solid #00ff00"></div>
<span style="top:327px;font-size:11px;color:#000;left:227.08px;letter-spacing:0.67px;-webkit-text-stroke:0.3px currentColor;">BLKMOV</span>
<div style="left:239px;top:342px;width:27px;height:16px;border:1px solid rgba(235,235,245,.75)"></div>
<span style="top:341px;font-size:11px;color:#000;left:242.24px;-webkit-text-stroke:0.3px currentColor;">Any</span>
<span style="top:365px;font-size:11px;color:#000;left:159.07px;letter-spacing:0.09px;">EN</span>
<span style="top:365px;font-size:11px;color:#000;left:320.79px;letter-spacing:0.01px;">ENO</span>
<span style="top:403px;font-size:11px;color:#000;left:159px;transform:translateX(0.1px) scaleX(0.925);">SRCBLK</span>
<span style="top:403px;font-size:11px;color:#000;left:300px;transform:translateX(0.75px) scaleX(0.922);">RET_VAL</span>
<span style="top:441px;font-size:11px;color:#000;left:305px;transform:translateX(0.06px) scaleX(0.938);">DSTBLK</span>
<div style="left:159px;top:381px;width:21px;height:1px;background:linear-gradient(90deg,rgba(255,255,255,.55),rgba(255,255,255,.35) 60%,rgba(255,255,255,0))"></div>
<div style="left:316px;top:381px;width:29px;height:1px;background:linear-gradient(270deg,rgba(255,255,255,.55),rgba(255,255,255,.35) 60%,rgba(255,255,255,0))"></div>
<div style="left:296px;top:419px;width:49px;height:1px;background:linear-gradient(270deg,rgba(255,255,255,.55),rgba(255,255,255,.35) 60%,rgba(255,255,255,0))"></div>
<div style="left:349px;top:370px;width:798px;height:2px;background:#000;"></div>
<div style="left:140px;top:408px;width:15px;height:2px;background:#000;"></div>
<div style="left:31px;top:388px;width:106px;height:14px;background:#d3d3d3;"></div>
<span style="top:387px;font-size:11px;color:#000;left:31.76px;letter-spacing:0.12px;">P#DB2.DBX22.0 TI...</span>
<span style="top:401px;font-size:11.5px;color:#000;left:52.38px;letter-spacing:0.58px;">#"reset0 timer"</span>
<div style="left:349px;top:408px;width:15px;height:2px;background:#000;"></div>
<div style="left:367px;top:388px;width:14px;height:14px;background:#d3d3d3;"></div>
<span style="top:387px;font-size:11px;color:#000;left:367px;transform:translateX(0.33px) scaleX(1.104);">0</span>
<span style="top:401px;font-size:11.5px;color:#000;left:367.52px;letter-spacing:0.71px;">#return</span>
<div style="left:349px;top:446px;width:15px;height:2px;background:#ff9900;"></div>
<span style="top:439px;font-size:11.5px;color:#000;left:367.63px;letter-spacing:0.74px;">#timeoff</span>
</section>
<section class="g" id="scrollbars">
<div style="left:1241px;top:53px;width:18px;height:455px;background:#c3c3c3;"></div>
<div style="left:1241px;top:53px;width:18px;height:17px;border:1px solid #9a9a9a;background:linear-gradient(180deg,#fcfcfc,#e2e2e2);box-shadow:inset 0 0 0 1px #fff"></div>
<svg style="left:1241px;top:53px" width="18" height="17"><path d="M4.7 11.3 L9 7 L13.3 11.3" fill="none" stroke="#4d4d4d" stroke-width="2"/></svg>
<div style="left:1241px;top:126px;width:18px;height:250px;border:1px solid #9a9a9a;border-right:0;background:linear-gradient(90deg,#e6e6e6,#d6d6d6);box-shadow:inset 1px 1px 0 0 #fff,inset -2px -1px 0 0 #fff"></div>
<div style="left:1246px;top:248px;width:8px;height:1px;background:#5a5a5a;"></div>
<div style="left:1246px;top:250px;width:8px;height:1px;background:#5a5a5a;"></div>
<div style="left:1246px;top:252px;width:8px;height:1px;background:#5a5a5a;"></div>
<div style="left:1246px;top:254px;width:8px;height:1px;background:#5a5a5a;"></div>
<div style="left:1241px;top:473px;width:18px;height:17px;border:1px solid #9a9a9a;background:linear-gradient(180deg,#fcfcfc,#e2e2e2);box-shadow:inset 0 0 0 1px #fff"></div>
<svg style="left:1241px;top:473px" width="18" height="17"><path d="M4.7 6 L9 10.3 L13.3 6" fill="none" stroke="#4d4d4d" stroke-width="2"/></svg>
<div style="left:1px;top:490px;width:1240px;height:18px;background:#c3c3c3;"></div>
<div style="left:1px;top:490px;width:18px;height:18px;border:1px solid #9a9a9a;background:linear-gradient(180deg,#fcfcfc,#e2e2e2);box-shadow:inset 0 0 0 1px #fff"></div>
<svg style="left:1px;top:490px" width="18" height="18"><path d="M11.3 4.7 L7 9 L11.3 13.3" fill="none" stroke="#4d4d4d" stroke-width="2"/></svg>
<div style="left:20px;top:490px;width:918px;height:18px;border:1px solid #9a9a9a;background:linear-gradient(180deg,#dedede,#f6f6f6);box-shadow:inset 0 0 0 1px #fff"></div>
<div style="left:476px;top:495px;width:1px;height:8px;background:#555;"></div>
<div style="left:478px;top:495px;width:1px;height:8px;background:#555;"></div>
<div style="left:480px;top:495px;width:1px;height:8px;background:#555;"></div>
<div style="left:482px;top:495px;width:1px;height:8px;background:#555;"></div>
<div style="left:959px;top:490px;width:18px;height:18px;border:1px solid #9a9a9a;background:linear-gradient(180deg,#fcfcfc,#e2e2e2);box-shadow:inset 0 0 0 1px #fff"></div>
<svg style="left:959px;top:490px" width="18" height="18"><path d="M7 4.7 L11.3 9 L7 13.3" fill="none" stroke="#4d4d4d" stroke-width="2"/></svg>
</section>
<section class="g" id="zoombar">
<div style="left:977px;top:490px;width:264px;height:18px;background:#ebebeb;"></div>
<div style="left:983px;top:490px;width:155px;height:18px;border:1px solid #9a9a9a;background:#fff"></div>
<span style="top:491px;font-size:11px;color:#000;left:985.77px;letter-spacing:0.93px;">100%</span>
<div style="left:1122px;top:490px;width:16px;height:18px;border:1px solid #8e8e8e;background:linear-gradient(180deg,#ececec,#c2c2c2);box-shadow:inset 0 0 0 1px rgba(255,255,255,.6)"></div>
<svg style="left:1122px;top:490px" width="16" height="18"><path d="M4.2 7 L12 7 L8.1 11 Z" fill="#111"/></svg>
<div style="left:1157px;top:498px;width:66px;height:1px;background:#6e6e6e;"></div>
<div style="left:1157px;top:504px;width:1px;height:3px;background:#1a1a1a;"></div>
<div style="left:1162px;top:504px;width:1px;height:3px;background:#1a1a1a;"></div>
<div style="left:1166px;top:504px;width:1px;height:3px;background:#1a1a1a;"></div>
<div style="left:1171px;top:504px;width:1px;height:3px;background:#1a1a1a;"></div>
<div style="left:1176px;top:504px;width:1px;height:3px;background:#1a1a1a;"></div>
<div style="left:1180px;top:504px;width:1px;height:3px;background:#1a1a1a;"></div>
<div style="left:1185px;top:504px;width:1px;height:3px;background:#1a1a1a;"></div>
<div style="left:1190px;top:504px;width:1px;height:3px;background:#1a1a1a;"></div>
<div style="left:1194px;top:504px;width:1px;height:3px;background:#1a1a1a;"></div>
<div style="left:1199px;top:504px;width:1px;height:3px;background:#1a1a1a;"></div>
<div style="left:1204px;top:504px;width:1px;height:3px;background:#1a1a1a;"></div>
<div style="left:1208px;top:504px;width:1px;height:3px;background:#1a1a1a;"></div>
<div style="left:1213px;top:504px;width:1px;height:3px;background:#1a1a1a;"></div>
<div style="left:1218px;top:504px;width:1px;height:3px;background:#1a1a1a;"></div>
<div style="left:1222px;top:504px;width:1px;height:3px;background:#1a1a1a;"></div>
<svg style="left:1175px;top:493px" width="11" height="12" viewBox="0 0 11 12"><defs><linearGradient id="sg" x1="0" y1="0" x2="0" y2="1"><stop offset="0" stop-color="#fbfbfb"/><stop offset="0.35" stop-color="#d2d2d2"/><stop offset="1" stop-color="#b4b4b4"/></linearGradient></defs><path d="M1.5 1.5 H9.5 V7 L5.5 11 L1.5 7 Z" fill="url(#sg)" stroke="#f4f4f4" stroke-width="1"/><path d="M2.3 7.4 L5.5 10.6 L8.7 7.4" fill="none" stroke="#6a6a6a" stroke-width="0.9"/></svg>
<div style="left:1241px;top:490px;width:18px;height:18px;background:#c3c3c3;"></div>
</section>
<section class="g" id="inspector-tabs">
<div style="left:0px;top:508px;width:1262px;height:3px;background:#161b2e;"></div>
<div style="left:1px;top:511px;width:1258px;height:24px;background:#b2b2b2;"></div>
<div style="left:888px;top:514px;width:112px;height:22px;border:1px solid #7e7e7e;border-bottom:0;background:linear-gradient(180deg,#e9e9e9 0,#e6e6e6 9px,#dcdcdc 9px,#d8d8d8 100%);box-shadow:inset 1px 1px 0 0 #f2f2f2"></div>
<div style="left:1001px;top:514px;width:71px;height:22px;border-left:1px solid #a0a0a0;border-right:1px solid #8c8c8c;background:linear-gradient(180deg,#f6f6f8,#ededed)"></div>
<div style="left:1001px;top:514px;width:71px;height:2px;background:#ff9c00;"></div>
<div style="left:1072px;top:514px;width:114px;height:22px;border:1px solid #7e7e7e;border-bottom:0;background:linear-gradient(180deg,#e9e9e9 0,#e6e6e6 9px,#dcdcdc 9px,#d8d8d8 100%);box-shadow:inset 1px 1px 0 0 #f2f2f2"></div>
<div style="left:891px;top:517px;width:14px;height:15px;background:linear-gradient(180deg,#e2e4fa,#fdfdff 45%,#e8eafc);border-left:1px solid #c4c8f0;border-top:1px solid #d0d2f4;border-right:1px solid #b4b8d0;border-bottom:1px solid #6262e8"></div>
<div style="left:893px;top:520px;width:3px;height:1px;background:#9a9aa4;"></div>
<div style="left:893px;top:522px;width:3px;height:1px;background:#9a9aa4;"></div>
<div style="left:893px;top:524px;width:3px;height:1px;background:#9a9aa4;"></div>
<div style="left:893px;top:526px;width:3px;height:1px;background:#9a9aa4;"></div>
<svg style="left:890px;top:516px" width="18" height="17" viewBox="0 0 18 17"><circle cx="9.9" cy="7.9" r="3.5" fill="rgba(240,240,250,.75)" stroke="#14144a" stroke-width="1.1"/><rect x="8.6" y="7.2" width="2.6" height="1.4" fill="#a0a0a8"/><path d="M12.4 10.6 L13.6 11.8" stroke="#e8a800" stroke-width="2"/><path d="M13.6 11.8 L16 14.2" stroke="#1e3c96" stroke-width="2.2"/></svg>
<div style="left:1006px;top:517px;width:12px;height:15px;background:linear-gradient(180deg,#e2e4fa,#fdfdff 45%,#e8eafc);border-left:1px solid #c4c8f0;border-top:1px solid #d0d2f4;border-right:1px solid #b4b8d0;border-bottom:1px solid #6262e8"></div>
<svg style="left:1003px;top:516px" width="19" height="17" viewBox="0 0 19 17"><g fill="#0a0a3c"><rect x="8" y="3.6" width="2" height="1.8"/><rect x="7" y="6.4" width="3" height="1"/><rect x="8" y="6.4" width="2" height="4.2"/><rect x="6.6" y="10" width="4.6" height="1.2"/><rect x="1" y="3.4" width="4" height="1.4"/><path d="M4 1.6 L7 4.1 L4 6.6 Z"/><rect x="11" y="11.9" width="4" height="1.4"/><path d="M14 10.1 L17 12.6 L14 15.1 Z"/></g></svg>
<div style="left:1077px;top:517px;width:12px;height:15px;background:linear-gradient(180deg,#e2e4fa,#fdfdff 45%,#e8eafc);border-left:1px solid #c4c8f0;border-top:1px solid #d0d2f4;border-right:1px solid #b4b8d0;border-bottom:1px solid #6262e8"></div>
<svg style="left:1076px;top:516px" width="15" height="17" viewBox="0 0 15 17"><path d="M3.5 3 V6.2 Q3.5 8.8 5.8 8.8 Q7.6 8.8 7.6 6.2 V3" fill="none" stroke="#000" stroke-width="0.95"/><path d="M5.6 8.8 V11.2 Q5.6 13.2 7.4 13.2 Q8.6 13.2 9 12.2" fill="none" stroke="#000" stroke-width="0.95"/><circle cx="9.6" cy="11.2" r="1.5" fill="#000"/><rect x="3" y="2.6" width="1.4" height="1" fill="#0a0a8a"/><rect x="6.8" y="2.6" width="1.4" height="1" fill="#0a0a8a"/></svg>
<span style="top:518px;font-size:13px;color:#5e5e5e;left:910.67px;letter-spacing:0.51px;-webkit-text-stroke:0.22px currentColor;">Propriétés</span>
<span style="top:518px;font-size:13px;color:#0a0a32;left:1023.35px;letter-spacing:0.69px;font-weight:bold;">Info</span>
<span style="top:518px;font-size:13px;color:#5e5e5e;left:1094.46px;letter-spacing:0.87px;-webkit-text-stroke:0.22px currentColor;">Diagnostic</span>
<div style="left:1209px;top:517px;width:8px;height:8px;background:#fff;"></div>
<div style="left:1205px;top:519px;width:10px;height:10px;background:#b2b2b2;"></div>
<div style="left:1206px;top:520px;width:8px;height:8px;background:#fff;"></div>
<div style="left:1224px;top:517px;width:11px;height:11px;background:#f4f4f4;"></div>
<div style="left:1225px;top:518px;width:9px;height:1px;background:#bcbcbc;"></div>
<div style="left:1225px;top:520px;width:9px;height:1px;background:#bcbcbc;"></div>
<div style="left:1225px;top:522px;width:9px;height:1px;background:#bcbcbc;"></div>
<div style="left:1225px;top:524px;width:9px;height:3px;background:#c4c4c4;"></div>
<svg style="left:1241px;top:519px" width="14" height="8" viewBox="0 0 14 8"><path d="M0.6 0.8 H13.4 L7 7.4 Z" fill="#fff"/></svg>
</section>
<section class="g" id="frame">
<div style="left:0px;top:0px;width:1px;height:535px;background:#161b2e;"></div>
<div style="left:1259px;top:0px;width:3px;height:535px;background:#161b2e;"></div>
</section>
<section class="g" id="side-panel">
<div style="left:1262px;top:0px;width:13px;height:535px;background:#ececec;"></div>
<div style="left:1262px;top:123px;width:20px;height:17px;border:1px solid #fff;background:linear-gradient(180deg,#f4f4f4,#dcdcdc)"></div>
<svg style="left:1262px;top:123px" width="13" height="17"><path d="M11.3 4.2 L7 8.5 L11.3 12.8" fill="none" stroke="#4d4d4d" stroke-width="2"/></svg>
<div style="left:1262px;top:140px;width:13px;height:4px;background:#a6a6a6;"></div>
<div style="left:1262px;top:144px;width:13px;height:20px;background:linear-gradient(180deg,#f6f6f6,#e0e0e0 55%,#d8d8d8);border-bottom:1px solid #a8a8a8"></div>
<svg style="left:1262px;top:144px" width="13" height="20"><path d="M5.4 6.8 L9.8 11.2 L14.2 6.8" fill="none" stroke="#000" stroke-width="2.2"/></svg>
<div style="left:1262px;top:165px;width:13px;height:150px;background:#f0f0f0;"></div>
<div style="left:1266px;top:170px;width:20px;height:17px;border:1px solid #9a9a9a;background:#f8f8f8;box-shadow:inset 1px 1px 0 0 #fff"></div>
<span style="top:171px;font-size:11px;color:#202020;left:1270.2px;">A</span>
<div style="left:1262px;top:315px;width:13px;height:4px;background:#a6a6a6;"></div>
<div style="left:1262px;top:319px;width:13px;height:20px;background:linear-gradient(180deg,#f6f6f6,#e0e0e0 55%,#d8d8d8);border-bottom:1px solid #a8a8a8"></div>
<svg style="left:1262px;top:319px" width="13" height="20"><path d="M5.4 6.8 L9.8 11.2 L14.2 6.8" fill="none" stroke="#000" stroke-width="2.2"/></svg>
<div style="left:1262px;top:340px;width:13px;height:24px;background:#f0f0f0;"></div>
<svg style="left:1262px;top:340px" width="13" height="24" viewBox="0 0 13 24"><g fill="none" stroke="#7a7a7a" stroke-width="1.6"><path d="M7 5.5 Q10 3.6 14 4.4"/><path d="M6.2 8.6 Q9.4 6.2 14 7.2"/><path d="M14 10 Q8.6 9.6 8 13 Q8.4 16.6 14 16"/></g></svg>
<div style="left:1262px;top:364px;width:13px;height:22px;background:#fff;"></div>
<div style="left:1267px;top:367px;width:16px;height:15px;border:1px solid #b4b4b4;border-radius:2px;background:#fafafa"></div>
<svg style="left:1267px;top:367px" width="8" height="15"><path d="M3.4 5 L6.4 10 L9 6" fill="none" stroke="#c4c4c4" stroke-width="2"/></svg>
<div style="left:1262px;top:385px;width:20px;height:89px;border:1px solid #1a8a1a;border-left-width:2px;background:#fff"></div>
<div style="left:1262px;top:474px;width:13px;height:15px;background:#fff;"></div>
<div style="left:1262px;top:489px;width:13px;height:4px;background:#a6a6a6;"></div>
<div style="left:1262px;top:493px;width:13px;height:20px;background:linear-gradient(180deg,#f6f6f6,#e0e0e0 55%,#d8d8d8);border-bottom:1px solid #a8a8a8"></div>
<svg style="left:1262px;top:493px" width="13" height="20"><path d="M5.4 6.8 L9.8 11.2 L14.2 6.8" fill="none" stroke="#000" stroke-width="2.2"/></svg>
<div style="left:1262px;top:514px;width:13px;height:21px;background:#fff;"></div>
<span style="top:515px;font-size:10px;color:#101020;left:1267.99px;">B</span>
</section>
</div>
</body></html>
